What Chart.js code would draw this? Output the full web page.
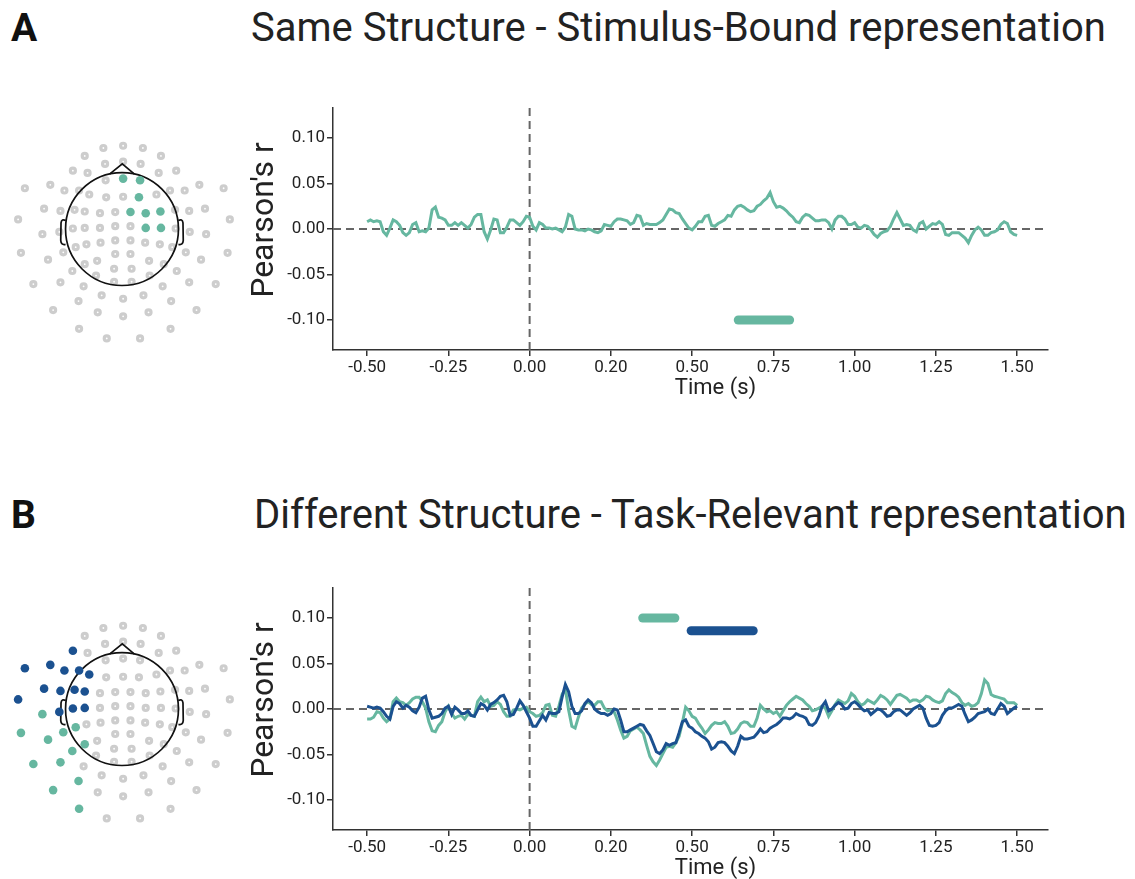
<!DOCTYPE html>
<html>
<head>
<meta charset="utf-8">
<script src="https://cdn.jsdelivr.net/npm/chart.js@4.4.0/dist/chart.umd.min.js"></script>
<style>
  body { margin: 0; background: #fff; width: 1135px; height: 879px; overflow: hidden; position: relative; font-family: Roboto, "Noto Sans", sans-serif; color: #222; }
  canvas { position: absolute; }
  .letter { position: absolute; font-weight: bold; font-size: 39px; line-height: 39px; color: #111; }
  .title { position: absolute; font-size: 40px; line-height: 40px; white-space: nowrap; color: #222; }
</style>
</head>
<body>
<div class="letter" style="left:11px;top:9px">A</div>
<div class="title" style="left:251px;top:8px">Same Structure - Stimulus-Bound representation</div>
<div class="letter" style="left:11px;top:496px">B</div>
<div class="title" style="left:254px;top:495px">Different Structure - Task-Relevant representation</div>

<canvas id="headA" width="244" height="260" style="left:0;top:100px"></canvas>
<canvas id="lineA" width="820" height="320" style="left:240px;top:90px"></canvas>
<canvas id="headB" width="244" height="260" style="left:0;top:580px"></canvas>
<canvas id="lineB" width="820" height="320" style="left:240px;top:570px"></canvas>

<script>
// --- DATA ---
const TEAL = "#66b7a0";
const BLUE = "#1b5190";

// sample times (s)
const timeSec = [
  -0.5,-0.49,-0.48,-0.47,-0.46,-0.45,-0.44,-0.43,-0.42,-0.41,
  -0.4,-0.39,-0.38,-0.37,-0.36,-0.35,-0.34,-0.33,-0.32,-0.31,
  -0.3,-0.29,-0.28,-0.27,-0.26,-0.25,-0.24,-0.23,-0.22,-0.21,
  -0.2,-0.19,-0.18,-0.17,-0.16,-0.15,-0.14,-0.13,-0.12,-0.11,
  -0.1,-0.09,-0.08,-0.07,-0.06,-0.05,-0.04,-0.03,-0.02,-0.01,
  0,0.01,0.02,0.03,0.04,0.05,0.06,0.07,0.08,0.09,
  0.1,0.11,0.12,0.13,0.14,0.15,0.16,0.17,0.18,0.19,
  0.2,0.21,0.22,0.23,0.24,0.25,0.26,0.27,0.28,0.29,
  0.3,0.31,0.32,0.33,0.34,0.35,0.36,0.37,0.38,0.39,
  0.4,0.41,0.42,0.43,0.44,0.45,0.46,0.47,0.48,0.49,
  0.5,0.51,0.52,0.53,0.54,0.55,0.56,0.57,0.58,0.59,
  0.6,0.61,0.62,0.63,0.64,0.65,0.66,0.67,0.68,0.69,
  0.7,0.71,0.72,0.73,0.74,0.75,0.76,0.77,0.78,0.79,
  0.8,0.81,0.82,0.83,0.84,0.85,0.86,0.87,0.88,0.89,
  0.9,0.91,0.92,0.93,0.94,0.95,0.96,0.97,0.98,0.99,
  1,1.01,1.02,1.03,1.04,1.05,1.06,1.07,1.08,1.09,
  1.1,1.11,1.12,1.13,1.14,1.15,1.16,1.17,1.18,1.19,
  1.2,1.21,1.22,1.23,1.24,1.25,1.26,1.27,1.28,1.29,
  1.3,1.31,1.32,1.33,1.34,1.35,1.36,1.37,1.38,1.39,
  1.4,1.41,1.42,1.43,1.44,1.45,1.46,1.47,1.48,1.49,
  1.5
];

// panel A: same structure, stimulus-bound (teal)
const sameStimTeal = [
  0.008,0.010,0.008,0.009,0.008,-0.003,-0.007,0.001,0.010,0.008,
  0.004,-0.004,-0.007,-0.004,0.005,0.007,-0.003,-0.002,-0.003,0.001,
  0.021,0.024,0.013,0.012,0.010,0.004,0.004,0.007,0.004,0.007,
  0.004,0.001,0.005,0.013,0.016,0.016,-0.003,-0.011,-0.001,0.011,
  0.010,-0.004,-0.004,0.002,0.010,0.010,0.007,0.004,0.008,0.014,
  0.013,0.003,-0.001,0.007,0.005,0.001,0.001,0.000,0.001,-0.001,
  -0.003,0.002,0.016,0.014,0.000,-0.001,-0.001,-0.002,0.000,-0.001,
  -0.003,-0.004,-0.002,0.005,0.004,0.003,0.008,0.011,0.011,0.010,
  0.009,0.005,0.007,0.015,0.014,0.004,0.006,0.005,0.005,0.005,
  0.007,0.010,0.016,0.022,0.021,0.018,0.017,0.011,0.006,0.001,
  -0.001,0.003,0.008,0.008,0.014,0.015,0.004,0.003,0.006,0.008,
  0.010,0.015,0.014,0.021,0.025,0.026,0.024,0.021,0.019,0.020,
  0.025,0.027,0.031,0.034,0.040,0.030,0.024,0.025,0.023,0.020,
  0.016,0.013,0.008,0.007,0.013,0.016,0.015,0.012,0.009,0.009,
  0.010,0.010,0.007,0.000,0.010,0.014,0.014,0.011,0.005,0.005,
  0.007,0.002,0.001,0.004,0.003,-0.001,-0.006,-0.009,-0.005,-0.003,
  -0.002,0.003,0.011,0.018,0.011,0.004,0.005,0.004,-0.001,-0.003,
  0.006,0.008,0.000,0.003,0.006,0.005,0.008,0.005,-0.006,-0.007,
  -0.004,-0.004,-0.004,-0.007,-0.010,-0.015,-0.007,-0.001,0.002,-0.001,
  -0.007,-0.007,-0.004,-0.003,-0.001,0.005,0.008,0.006,-0.003,-0.006,
  -0.007
];

// panel B: different structure, task-relevant (teal and blue)
const diffTaskTeal = [
  -0.011,-0.011,-0.009,-0.003,-0.004,-0.010,-0.014,-0.011,0.008,0.012,
  0.008,0.007,0.004,0.007,0.011,0.013,0.013,0.008,0.001,-0.014,
  -0.024,-0.025,-0.018,-0.014,-0.003,0.003,-0.005,-0.010,-0.008,-0.007,
  -0.011,-0.006,-0.007,-0.008,0.008,0.013,0.008,0.010,0.003,0.004,
  0.008,0.005,-0.003,-0.008,-0.008,-0.001,0.000,-0.001,0.001,0.002,
  -0.003,-0.005,-0.008,-0.007,-0.004,0.004,0.005,-0.007,-0.008,0.003,
  0.016,0.022,-0.001,-0.019,-0.021,-0.009,0.001,0.005,0.008,0.005,
  0.004,0.008,0.008,0.001,-0.002,-0.001,-0.003,-0.012,-0.023,-0.032,
  -0.030,-0.024,-0.022,-0.020,-0.023,-0.027,-0.040,-0.052,-0.058,-0.062,
  -0.056,-0.049,-0.042,-0.041,-0.042,-0.037,-0.030,-0.015,0.002,-0.002,
  -0.008,-0.010,-0.016,-0.021,-0.027,-0.023,-0.018,-0.015,-0.016,-0.016,
  -0.014,-0.019,-0.027,-0.026,-0.022,-0.016,-0.014,-0.015,-0.019,-0.019,
  -0.010,0.004,0.000,-0.003,-0.002,-0.005,-0.003,-0.008,-0.002,0.004,
  0.008,0.011,0.014,0.012,0.010,0.006,0.003,-0.002,-0.001,0.001,
  0.003,0.001,-0.008,-0.002,0.005,0.010,0.008,0.006,0.009,0.017,
  0.014,0.008,0.004,0.006,0.010,0.008,0.006,0.010,0.015,0.013,
  0.010,0.005,0.010,0.015,0.016,0.014,0.012,0.008,0.010,0.010,
  0.008,0.010,0.014,0.013,0.010,0.008,0.007,0.009,0.017,0.021,
  0.018,0.016,0.013,0.007,0.004,0.006,0.003,0.004,0.007,0.017,
  0.032,0.028,0.016,0.014,0.013,0.012,0.011,0.007,0.007,0.007,
  0.004
];
const diffTaskBlue = [
  0.003,0.002,0.001,0.002,0.001,-0.003,-0.008,-0.011,0.003,0.008,
  0.006,0.001,0.004,0.002,-0.002,-0.004,0.002,0.012,0.014,-0.001,
  -0.010,-0.009,-0.008,-0.005,0.001,0.003,-0.006,0.002,-0.001,-0.005,
  -0.005,-0.002,-0.007,-0.008,-0.001,0.006,0.004,-0.001,0.005,0.007,
  0.010,0.014,0.015,0.008,-0.007,-0.006,0.001,0.009,0.004,-0.003,
  -0.010,-0.019,-0.019,-0.013,-0.007,-0.012,-0.004,-0.005,-0.005,-0.003,
  0.013,0.027,0.019,0.003,-0.005,-0.005,-0.002,0.006,0.010,0.007,
  0.000,-0.003,-0.005,-0.005,-0.007,-0.005,0.000,-0.001,-0.012,-0.025,
  -0.025,-0.023,-0.021,-0.019,-0.017,-0.018,-0.024,-0.029,-0.038,-0.047,
  -0.049,-0.045,-0.038,-0.040,-0.038,-0.037,-0.026,-0.014,-0.012,-0.019,
  -0.021,-0.025,-0.027,-0.030,-0.032,-0.036,-0.044,-0.042,-0.037,-0.036,
  -0.037,-0.041,-0.046,-0.049,-0.041,-0.030,-0.033,-0.033,-0.032,-0.031,
  -0.027,-0.022,-0.026,-0.025,-0.021,-0.019,-0.017,-0.014,-0.010,-0.010,
  -0.011,-0.009,-0.005,-0.007,-0.008,-0.010,-0.017,-0.018,-0.015,-0.008,
  0.003,0.008,-0.002,0.000,0.004,0.007,0.005,0.000,0.001,0.006,
  0.008,0.005,0.001,-0.002,-0.001,-0.006,-0.003,0.000,-0.001,-0.004,
  -0.008,-0.007,-0.003,-0.001,-0.001,-0.004,-0.007,-0.004,0.000,0.002,
  0.004,0.001,-0.010,-0.018,-0.019,-0.018,-0.015,-0.007,-0.002,0.001,
  0.001,0.003,0.005,0.003,-0.006,-0.014,-0.012,-0.009,-0.005,-0.004,
  -0.003,0.000,-0.005,-0.006,0.000,0.006,0.003,-0.005,-0.002,0.001,
  0.003
];

// significant clusters: [start, end, y level]
const sigSameTeal = [0.642, 0.8, -0.10];
const sigDiffTeal = [0.348, 0.447, 0.10];
const sigDiffBlue = [0.497, 0.688, 0.086];

// axis ticks
const xTickValues = [-0.5, -0.25, 0, 0.25, 0.5, 0.75, 1, 1.25, 1.5];
const xTickLabels = ["-0.50", "-0.25", "0.00", "0.20", "0.50", "0.75", "1.00", "1.25", "1.50"];
const yTickValues = [-0.1, -0.05, 0, 0.05, 0.1];
const yTickLabels = ["-0.10", "-0.05", "0.00", "0.05", "0.10"];

// electrode layout (head radius = 1)
const elecX = [
  -0.33,0.02,0.37,-0.66,0.69,-0.30,0.02,0.33,-0.87,-0.61,
  0.65,0.96,-0.29,0.02,0.32,-1.72,-1.27,-1.02,-0.76,-0.58,
  -0.28,0.02,0.30,0.61,0.85,1.11,1.37,1.80,-1.38,-1.09,
  -0.84,-0.66,-0.39,-0.12,0.15,0.42,0.68,0.94,1.19,1.47,
  -1.84,1.91,-1.41,-1.11,-0.87,-0.66,-0.39,-0.12,0.15,0.42,
  0.69,0.95,1.20,1.49,-1.04,-0.82,-0.63,-0.38,-0.12,0.15,
  0.41,0.67,0.89,1.13,-1.79,1.87,-1.31,-0.66,-0.44,-0.12,
  0.15,0.48,0.74,1.40,-0.88,-0.14,0.17,0.97,-0.46,0.49,
  -1.57,-1.09,-0.68,-0.14,0.17,0.72,1.19,1.66,-0.77,-0.36,
  0.02,0.38,0.87,-1.22,-0.43,0.02,0.47,1.32,-0.76,0.86,
  -0.27,0.32
];
const elecY = [
  1.43,1.47,1.43,1.29,1.29,1.15,1.19,1.15,1.03,0.99,
  0.99,1.03,0.86,0.89,0.86,0.72,0.78,0.68,0.68,0.61,
  0.56,0.57,0.56,0.61,0.68,0.68,0.78,0.72,0.36,0.32,
  0.34,0.31,0.28,0.30,0.30,0.28,0.31,0.34,0.32,0.36,
  0.17,0.17,-0.09,-0.05,0.01,0.02,0.02,0.05,0.05,0.02,
  0.02,0.01,-0.05,-0.09,-0.41,-0.32,-0.27,-0.24,-0.20,-0.20,
  -0.24,-0.27,-0.32,-0.41,-0.42,-0.42,-0.54,-0.62,-0.56,-0.44,
  -0.44,-0.56,-0.62,-0.54,-0.74,-0.70,-0.70,-0.74,-0.82,-0.82,
  -0.97,-0.94,-1.01,-0.93,-0.93,-1.01,-0.94,-0.97,-1.27,-1.17,
  -1.23,-1.17,-1.27,-1.43,-1.47,-1.54,-1.47,-1.43,-1.76,-1.76,
  -1.93,-1.93
];
const sameTealElecs = [13, 14, 22, 34, 35, 36, 49, 50];
const diffBlueElecs = [8, 15, 16, 17, 18, 19, 28, 29, 30, 31, 40, 43, 44, 45];
const diffTealElecs = [42, 54, 55, 64, 66, 67, 74, 80, 81, 88, 93, 98];

// --- HELPERS ---
Chart.defaults.font.family = "Roboto, 'Noto Sans', sans-serif";
Chart.defaults.color = "#222";

function toPoints(xs, ys) {
  return xs.map((x, i) => ({ x: x, y: ys[i] }));
}

// dashed reference lines at x = 0 and y = 0
const zeroLines = {
  id: "zeroLines",
  beforeDatasetsDraw(chart) {
    const { ctx, chartArea, scales } = chart;
    const x0 = scales.x.getPixelForValue(0);
    const y0 = scales.y.getPixelForValue(0);
    ctx.save();
    ctx.strokeStyle = "#666";
    ctx.lineWidth = 2;
    ctx.setLineDash([8, 5]);
    ctx.beginPath();
    ctx.moveTo(chartArea.left, y0);
    ctx.lineTo(chartArea.right, y0);
    ctx.moveTo(x0, chartArea.top);
    ctx.lineTo(x0, chartArea.bottom);
    ctx.stroke();
    ctx.restore();
  }
};

// axis titles (placed like the original figure, slightly off-centre)
const axisTitles = {
  id: "axisTitles",
  afterDraw(chart) {
    const { ctx, chartArea } = chart;
    const midX = (chartArea.left + chartArea.right) / 2;
    const midY = (chartArea.top + chartArea.bottom) / 2;
    ctx.save();
    ctx.fillStyle = "#222";
    ctx.textAlign = "center";
    ctx.textBaseline = "middle";
    ctx.font = "22px Roboto, 'Noto Sans', sans-serif";
    ctx.fillText("Time (s)", midX + 25, chartArea.bottom + 38);
    ctx.translate(chartArea.left - 68, midY - 9);
    ctx.rotate(-Math.PI / 2);
    ctx.font = "32px Roboto, 'Noto Sans', sans-serif";
    ctx.fillText("Pearson's r", 0, 0);
    ctx.restore();
  }
};

function seriesDataset(values, color) {
  return {
    data: toPoints(timeSec, values),
    borderColor: color,
    borderWidth: 3,
    pointRadius: 0,
    tension: 0,
    fill: false
  };
}

function sigDataset(bar, color) {
  return {
    data: [{ x: bar[0], y: bar[2] }, { x: bar[1], y: bar[2] }],
    borderColor: color,
    borderWidth: 9,
    borderCapStyle: "round",
    pointRadius: 0
  };
}

function createLineChart(canvasId, datasets) {
  return new Chart(document.getElementById(canvasId), {
    type: "line",
    data: { datasets: datasets },
    plugins: [zeroLines, axisTitles],
    options: {
      responsive: false,
      animation: false,
      events: [],
      layout: { padding: { top: 18, right: 12, left: 0, bottom: 0 } },
      plugins: { legend: { display: false }, tooltip: { enabled: false } },
      scales: {
        x: {
          type: "linear",
          min: -0.605,
          max: 1.595,
          afterBuildTicks: s => { s.ticks = xTickValues.map(v => ({ value: v })); },
          afterFit: s => { s.height = 60; },
          ticks: { callback: (v, i) => xTickLabels[i], font: { size: 17 }, color: "#222", padding: 2, maxRotation: 0, autoSkip: false },
          grid: { display: true, drawOnChartArea: false, tickLength: 6, color: "#333", lineWidth: 1.5 },
          border: { color: "#333", width: 1.5 }
        },
        y: {
          min: -0.133,
          max: 0.133,
          afterBuildTicks: s => { s.ticks = yTickValues.map(v => ({ value: v })); },
          afterFit: s => { s.width = 93; },
          ticks: { callback: (v, i) => yTickLabels[i], font: { size: 17 }, color: "#222", padding: 2 },
          grid: { display: true, drawOnChartArea: false, tickLength: 6, color: "#333", lineWidth: 1.5 },
          border: { color: "#333", width: 1.5 }
        }
      }
    }
  });
}

// head outline drawn right after the grey electrodes
const headOutline = {
  id: "headOutline",
  afterDatasetDraw(chart, args) {
    if (args.index !== chart.data.datasets.length - 1) return;
    const { ctx, scales } = chart;
    const px = v => scales.x.getPixelForValue(v);
    const py = v => scales.y.getPixelForValue(v);
    const r = px(1) - px(0);
    ctx.save();
    ctx.strokeStyle = "#111";
    ctx.lineWidth = 1.7;
    ctx.beginPath();
    ctx.arc(px(0), py(0), r, 0, Math.PI * 2);
    ctx.stroke();
    // nose
    ctx.beginPath();
    ctx.moveTo(px(-0.22), py(0.97));
    ctx.lineTo(px(0.005), py(1.15));
    ctx.lineTo(px(0.22), py(0.97));
    ctx.stroke();
    // ears
    [-1, 1].forEach(side => {
      ctx.beginPath();
      ctx.moveTo(px(0.995 * side), py(0.15));
      ctx.quadraticCurveTo(px(1.07 * side), py(0.19), px(1.08 * side), py(0.11));
      ctx.lineTo(px(1.085 * side), py(-0.2));
      ctx.quadraticCurveTo(px(1.08 * side), py(-0.29), px(1.0 * side), py(-0.27));
      ctx.stroke();
    });
    ctx.restore();
  }
};

function createHead(canvasId, groups) {
  const used = new Set();
  const datasets = groups.map(g => {
    g.idx.forEach(i => used.add(i));
    return {
      data: g.idx.map(i => ({ x: elecX[i], y: elecY[i] })),
      backgroundColor: g.color,
      borderWidth: 0,
      pointRadius: 4.3,
      clip: false
    };
  });
  const greyIdx = elecX.map((_, i) => i).filter(i => !used.has(i));
  datasets.push({
    data: greyIdx.map(i => ({ x: elecX[i], y: elecY[i] })),
    backgroundColor: "#fff",
    borderColor: "#cdcdcd",
    borderWidth: 3.2,
    pointRadius: 2.5,
    clip: false
  });
  return new Chart(document.getElementById(canvasId), {
    type: "scatter",
    data: { datasets: datasets },
    plugins: [headOutline],
    options: {
      responsive: false,
      animation: false,
      events: [],
      layout: { padding: 0 },
      plugins: { legend: { display: false }, tooltip: { enabled: false } },
      scales: {
        x: { type: "linear", display: false, min: -2.0333, max: 2.0333 },
        y: { type: "linear", display: false, min: -2.1833, max: 2.15 }
      }
    }
  });
}

// --- BUILD ---
createHead("headA", [{ idx: sameTealElecs, color: TEAL }]);
createHead("headB", [{ idx: diffBlueElecs, color: BLUE }, { idx: diffTealElecs, color: TEAL }]);

createLineChart("lineA", [
  sigDataset(sigSameTeal, TEAL),
  seriesDataset(sameStimTeal, TEAL)
]);
createLineChart("lineB", [
  sigDataset(sigDiffTeal, TEAL),
  sigDataset(sigDiffBlue, BLUE),
  seriesDataset(diffTaskBlue, BLUE),
  seriesDataset(diffTaskTeal, TEAL)
]);
</script>
</body>
</html>
